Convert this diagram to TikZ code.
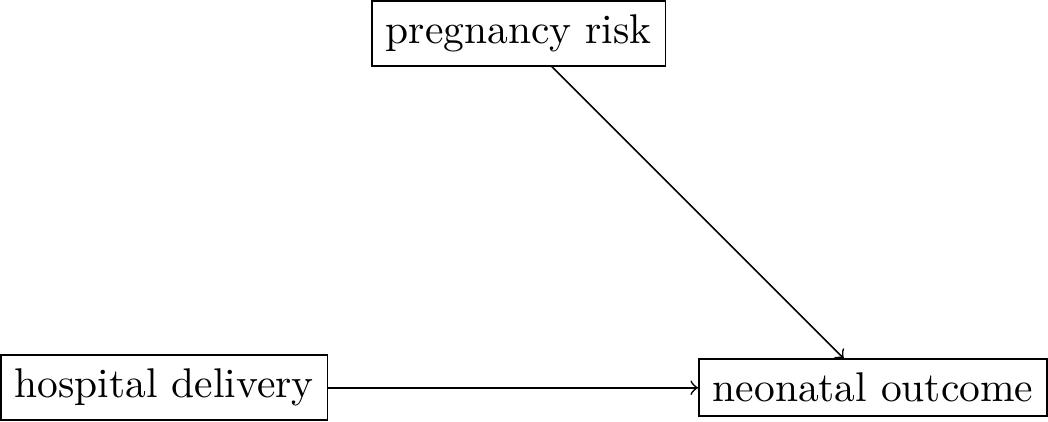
\documentclass[tikz,border=0pt]{standalone}
\usepackage{tikz}
\usetikzlibrary{positioning}

\begin{document}
\begin{tikzpicture}[->,auto,node distance=3cm,on grid]
\tikzstyle{every node}=[draw,rectangle]
\node (HOSP) {hospital delivery};
\node (RISK) [above right=3cm and 3cm of HOSP] {pregnancy risk};
\node (OUT) [right=6cm of HOSP] {neonatal outcome};

\path (HOSP) edge (OUT)
      (RISK) edge (OUT);
\end{tikzpicture}
\end{document}
